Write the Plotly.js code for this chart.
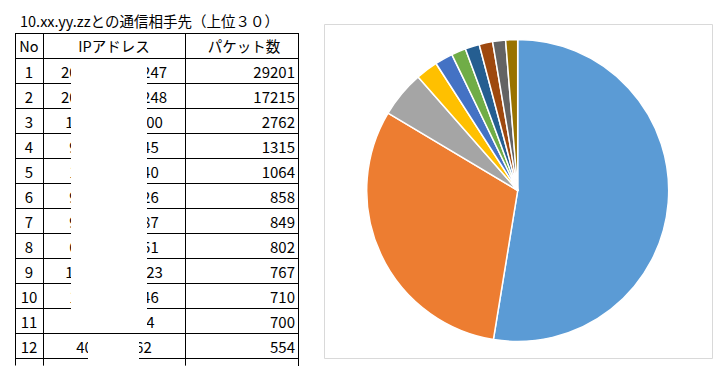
<!DOCTYPE html>
<html>
<head>
<meta charset="utf-8">
<script src="https://cdn.plot.ly/plotly-3.0.1.min.js"></script>
<style>
html,body{margin:0;padding:0;background:#fff;}
.scrollbar-kit{display:none !important;}
</style>
</head>
<body>
<div id="chart" style="width:719px;height:366px;"></div>
<script>
// ---- data ----
var tableTitle = "10.xx.yy.zzとの通信相手先（上位３０）";
var headers = ["No", "IPアドレス", "パケット数"];
var rankNo = ["1","2","3","4","5","6","7","8","9","10","11","12","13"];
var ipAddresses = [
  "20x.xxx.xxx.247", "20x.xxx.xxx.248", "1xx.xxx.xx.200", "9x.xxx.xxx.45",
  "1xx.xx.xxx.40", "9x.xxx.xxx.26", "9x.xxx.xxx.87", "6x.xxx.xxx.51",
  "1xx.xxx.xx.223", "1xx.xx.xxx.46", "xx.xxx.xx.34", "40.xx.xx.62", "20x.xx.xx.21"
];
var packets = [29201, 17215, 2762, 1315, 1064, 858, 849, 802, 767, 710, 700, 554, 490];
var pieCount = 10; // pie shows top 10 rows
var sliceColors = ["#5B9BD5","#ED7D31","#A5A5A5","#FFC000","#4472C4",
                   "#70AD47","#255E91","#9E480E","#636363","#997300"];

var W = 719, H = 366;
var FONT = "'Noto Sans CJK JP', 'Noto Sans', sans-serif";

var tableTrace = {
  type: "table",
  domain: {x: [15/W, 303/W], y: [0, 1 - 33.5/H]},
  columnwidth: [28, 142, 118],
  header: {
    values: headers,
    align: ["center","center","center"],
    height: 25,
    line: {color: "#000000", width: 1},
    fill: {color: "#ffffff"},
    font: {family: FONT, size: 14.5, color: "#000000"}
  },
  cells: {
    values: [rankNo, ipAddresses, packets],
    align: ["center","center","right"],
    height: 25,
    line: {color: "#000000", width: 1},
    fill: {color: "#ffffff"},
    font: {family: FONT, size: 15, color: "#000000"}
  }
};

var pieTrace = {
  type: "pie",
  values: packets.slice(0, pieCount),
  labels: ipAddresses.slice(0, pieCount),
  sort: false,
  direction: "clockwise",
  rotation: 0,
  textinfo: "none",
  showlegend: false,
  domain: {x: [366.7/W, 668.7/W], y: [24.5/H, 326.5/H]},
  marker: {colors: sliceColors, line: {color: "#ffffff", width: 1.5}}
};

var layout = {
  width: W, height: H,
  margin: {l: 0, r: 0, t: 0, b: 0},
  paper_bgcolor: "#ffffff",
  showlegend: false,
  font: {family: FONT},
  annotations: [{
    text: tableTitle, xref: "paper", yref: "paper",
    x: 18/W, y: 1 - 21/H, xanchor: "left", yanchor: "middle",
    showarrow: false, font: {family: FONT, size: 14.5, color: "#000000"}
  }],
  shapes: [
    {type: "rect", xref: "paper", yref: "paper", layer: "above",
     x0: 324.5/W, x1: 712.5/W, y0: 1 - 358.5/H, y1: 1 - 24.5/H,
     line: {color: "#d9d9d9", width: 1}, fillcolor: "rgba(0,0,0,0)"},
    // trim table to its right border
    {type: "rect", xref: "paper", yref: "paper", layer: "above",
     x0: 299/W, x1: 306/W, y0: 0, y1: 1 - 30/H,
     line: {width: 0}, fillcolor: "#ffffff"},
    {type: "line", xref: "paper", yref: "paper", layer: "above",
     x0: 298.5/W, x1: 298.5/W, y0: 0, y1: 1 - 33/H,
     line: {color: "#000000", width: 1}},
    // redaction boxes over IP addresses
    {type: "rect", xref: "paper", yref: "paper", layer: "above",
     x0: 71/W, x1: 147/W, y0: 1 - 333/H, y1: 1 - 59/H,
     line: {width: 0}, fillcolor: "#ffffff"},
    {type: "rect", xref: "paper", yref: "paper", layer: "above",
     x0: 88/W, x1: 139/W, y0: 0, y1: 1 - 334/H,
     line: {width: 0}, fillcolor: "#ffffff"}
  ]
};

Plotly.newPlot("chart", [tableTrace, pieTrace], layout, {displayModeBar: false, staticPlot: true});
</script>
</body>
</html>
